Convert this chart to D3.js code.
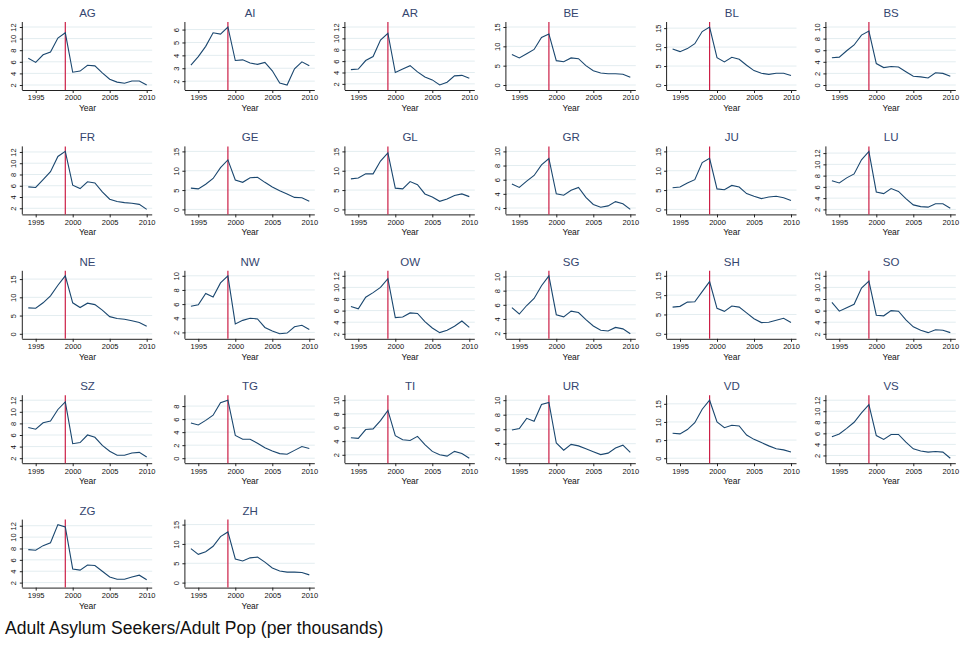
<!DOCTYPE html>
<html>
<head>
<meta charset="utf-8">
<script src="https://cdn.jsdelivr.net/npm/d3@7"></script>
<style>
  body { margin: 0; background: #fff; }
  svg { font-family: "Liberation Sans", Arial, sans-serif; }
</style>
</head>
<body>
<svg id="chart"></svg>
<script>
// years on the x axis
const years = d3.range(1994, 2011);
const xTicks = [1995, 2000, 2005, 2010];
const breakYear = 1999;

// canton codes, in panel order
const cantons = ["AG", "AI", "AR", "BE", "BL", "BS", "FR", "GE", "GL", "GR", "JU", "LU",
  "NE", "NW", "OW", "SG", "SH", "SO", "SZ", "TG", "TI", "UR", "VD", "VS", "ZG", "ZH"];

// adult asylum seekers per thousand adults, 1994..2010
const AG = [6.6, 5.9, 7.2, 7.7, 10.1, 11.0, 4.2, 4.4, 5.4, 5.3, 4.1, 3.0, 2.5, 2.3, 2.7, 2.7, 2.0];
const AI = [3.25, 3.9, 4.7, 5.75, 5.65, 6.2, 3.6, 3.65, 3.4, 3.3, 3.45, 2.8, 1.85, 1.7, 2.95, 3.5, 3.2];
const AR = [4.5, 4.6, 6.1, 6.8, 9.7, 10.9, 4.0, 4.6, 5.2, 4.1, 3.2, 2.7, 1.8, 2.3, 3.4, 3.5, 3.0];
const BE = [7.9, 7.0, 8.1, 9.2, 12.3, 13.2, 6.3, 6.0, 7.0, 6.8, 5.0, 3.7, 3.1, 2.9, 2.9, 2.8, 2.0];
const BL = [9.5, 8.8, 9.6, 10.9, 14.1, 15.3, 7.2, 6.1, 7.3, 6.8, 5.2, 3.8, 3.1, 2.8, 3.1, 3.1, 2.5];
const BS = [4.7, 4.8, 5.9, 6.9, 8.6, 9.3, 3.7, 3.0, 3.2, 3.1, 2.3, 1.5, 1.4, 1.2, 2.1, 2.0, 1.5];
const FR = [5.8, 5.7, 7.1, 8.5, 11.2, 12.1, 6.1, 5.5, 6.7, 6.5, 4.9, 3.6, 3.2, 3.0, 2.9, 2.7, 1.8];
const GE = [5.5, 5.3, 6.5, 8.0, 10.8, 12.8, 7.6, 7.0, 8.2, 8.3, 7.0, 5.8, 4.8, 4.0, 3.1, 3.0, 2.1];
const GL = [7.9, 8.1, 9.2, 9.2, 12.5, 14.6, 5.5, 5.3, 7.2, 6.4, 4.0, 3.2, 2.1, 2.7, 3.6, 4.0, 3.3];
const GR = [5.4, 4.9, 5.8, 6.6, 8.1, 9.0, 4.0, 3.8, 4.5, 4.9, 3.5, 2.5, 2.1, 2.3, 2.9, 2.6, 1.8];
const JU = [5.6, 5.8, 6.8, 7.7, 12.1, 13.2, 5.3, 5.1, 6.2, 5.8, 4.1, 3.4, 2.8, 3.2, 3.4, 3.0, 2.3];
const LU = [7.1, 6.7, 7.6, 8.3, 10.8, 12.3, 5.1, 4.8, 5.7, 5.2, 3.9, 2.8, 2.5, 2.4, 3.0, 3.0, 2.2];
const NE = [7.1, 7.0, 8.5, 10.4, 13.3, 15.9, 8.5, 7.2, 8.4, 8.0, 6.5, 4.7, 4.2, 4.0, 3.6, 3.1, 2.1];
const NW = [5.7, 5.9, 7.5, 7.0, 9.0, 10.0, 3.2, 3.7, 4.0, 3.9, 2.7, 2.2, 1.8, 1.9, 2.8, 3.0, 2.4];
const OW = [6.7, 6.3, 8.3, 9.1, 10.0, 11.5, 4.8, 4.9, 5.6, 5.5, 4.1, 3.0, 2.2, 2.6, 3.3, 4.2, 3.1];
const SG = [5.6, 4.7, 5.9, 6.9, 8.7, 10.1, 4.6, 4.3, 5.1, 4.9, 3.9, 3.0, 2.4, 2.3, 2.8, 2.6, 1.9];
const SH = [6.9, 7.1, 8.2, 8.3, 10.9, 13.5, 6.6, 5.8, 7.2, 6.9, 5.4, 3.9, 2.9, 3.0, 3.5, 4.0, 2.9];
const SO = [7.4, 5.9, 6.5, 7.1, 9.9, 11.1, 5.2, 5.1, 6.0, 5.9, 4.4, 3.2, 2.6, 2.2, 2.7, 2.6, 2.2];
const SZ = [7.3, 7.0, 8.1, 8.4, 10.4, 11.7, 4.5, 4.7, 6.0, 5.6, 4.2, 3.2, 2.5, 2.5, 2.9, 3.0, 2.2];
const TG = [5.4, 5.1, 5.8, 6.6, 8.5, 8.9, 3.5, 2.9, 2.9, 2.3, 1.6, 1.1, 0.7, 0.6, 1.2, 1.8, 1.5];
const TI = [4.5, 4.4, 5.7, 5.8, 7.0, 8.5, 4.8, 4.2, 4.1, 4.7, 3.5, 2.5, 2.0, 1.8, 2.5, 2.2, 1.5];
const UR = [5.9, 6.1, 7.5, 7.1, 9.4, 9.7, 4.1, 3.1, 3.9, 3.7, 3.3, 2.9, 2.5, 2.7, 3.4, 3.8, 2.8];
const VD = [6.9, 6.7, 7.9, 9.8, 13.5, 16.0, 10.0, 8.4, 9.1, 8.9, 6.4, 5.2, 4.3, 3.4, 2.6, 2.3, 1.7];
const VS = [5.4, 5.9, 6.9, 8.0, 9.7, 11.2, 5.6, 4.9, 5.8, 5.8, 4.4, 3.2, 2.8, 2.6, 2.7, 2.6, 1.5];
const ZG = [7.8, 7.7, 8.5, 9.0, 12.2, 11.8, 4.4, 4.2, 5.1, 5.0, 4.0, 3.0, 2.6, 2.6, 3.0, 3.3, 2.5];
const ZH = [8.8, 7.3, 8.0, 9.4, 11.9, 13.1, 6.1, 5.6, 6.4, 6.6, 5.3, 3.8, 3.0, 2.7, 2.7, 2.6, 2.0];

const series = [AG, AI, AR, BE, BL, BS, FR, GE, GL, GR, JU, LU,
  NE, NW, OW, SG, SH, SO, SZ, TG, TI, UR, VD, VS, ZG, ZH];

// y tick labels used by the panels
const ticks2to12 = [2, 4, 6, 8, 10, 12];
const ticks2to6 = [2, 3, 4, 5, 6];
const ticks0to15 = [0, 5, 10, 15];
const ticks0to10 = [0, 2, 4, 6, 8, 10];
const ticks2to10 = [2, 4, 6, 8, 10];
const ticks0to8 = [0, 2, 4, 6, 8];

const yTicks = [ticks2to12, ticks2to6, ticks2to12, ticks0to15, ticks0to15, ticks0to10,
  ticks2to12, ticks0to15, ticks0to15, ticks2to10, ticks0to15, ticks2to12,
  ticks0to15, ticks2to10, ticks2to12, ticks2to10, ticks0to15, ticks2to12,
  ticks2to12, ticks0to8, ticks2to10, ticks2to10, ticks0to15, ticks2to12,
  ticks2to12, ticks0to15];

const noteText = "Adult Asylum Seekers/Adult Pop (per thousands)";

// layout
const width = 962, height = 650;
const colStart = [28.3, 190.9, 350.9, 511.9, 672.6, 831.9]; // x of 1994 in each column
const rowPitch = 124.4;
const plotW = 118.4;   // 1994..2010
const pad = 5.5;       // plot region margin around data

const lineColor = "#1a476f";
const redColor = "#cc1f46";
const gridColor = "#e3edf0";
const titleColor = "#34466f";

const svg = d3.select("#chart").attr("width", width).attr("height", height);

cantons.forEach((name, i) => {
  const col = i % 6, row = Math.floor(i / 6);
  const data = series[i];
  const ticks = yTicks[i];
  const x0 = colStart[col];
  const g = svg.append("g").attr("transform", `translate(0,${row * rowPitch})`);

  const x = d3.scaleLinear().domain([1994, 2010]).range([x0, x0 + plotW]);
  const ext = d3.extent(data.concat(ticks));
  const y = d3.scaleLinear().domain(ext).range([85, 27]);

  const left = x0 - pad, right = x0 + plotW + pad;
  const top = 22, bottom = 90;

  // gridlines
  g.append("g").selectAll("line").data(ticks).join("line")
    .attr("x1", left).attr("x2", right)
    .attr("y1", d => y(d)).attr("y2", d => y(d))
    .attr("stroke", gridColor).attr("stroke-width", 1);

  // y axis, labels turned sideways like Stata
  const yAxis = g.append("g").attr("transform", `translate(${left},0)`)
    .call(d3.axisLeft(y).tickValues(ticks).tickFormat(d3.format("d")).tickSize(3));
  yAxis.select(".domain").attr("d", `M-0.5,${top}V${bottom}`).attr("stroke", "#222");
  yAxis.selectAll(".tick line").attr("stroke", "#222");
  yAxis.selectAll(".tick text")
    .attr("font-size", 7.5).attr("fill", "#111")
    .attr("text-anchor", "middle").attr("dy", null)
    .attr("x", null)
    .attr("transform", "translate(-9,0) rotate(-90)")
    .attr("dominant-baseline", "central");

  // x axis
  const xAxis = g.append("g").attr("transform", `translate(0,${bottom})`)
    .call(d3.axisBottom(x).tickValues(xTicks).tickFormat(d3.format("d")).tickSize(3).tickPadding(2));
  xAxis.select(".domain").attr("d", `M${left - 0.5},0.5H${right}`).attr("stroke", "#222");
  xAxis.selectAll(".tick line").attr("stroke", "#222");
  xAxis.selectAll(".tick text").attr("font-size", 7.5).attr("fill", "#111");
  g.selectAll(".tick text").attr("font-family", "Liberation Sans, Arial, sans-serif");

  // axis title
  g.append("text")
    .attr("x", (left + right) / 2).attr("y", 108)
    .attr("text-anchor", "middle").attr("dominant-baseline", "central")
    .attr("font-size", 8.5).attr("fill", "#111")
    .text("Year");

  // panel title
  g.append("text")
    .attr("x", (left + right) / 2).attr("y", 13)
    .attr("text-anchor", "middle").attr("dominant-baseline", "central")
    .attr("font-size", 11.5).attr("fill", titleColor)
    .text(name);

  // break line at 1999
  g.append("line")
    .attr("x1", x(breakYear)).attr("x2", x(breakYear))
    .attr("y1", top).attr("y2", bottom)
    .attr("stroke", redColor).attr("stroke-width", 1.2);

  // series
  g.append("path")
    .datum(data)
    .attr("fill", "none")
    .attr("stroke", lineColor)
    .attr("stroke-width", 1.1)
    .attr("d", d3.line().x((d, j) => x(years[j])).y(d => y(d)));
});

// note
svg.append("text")
  .attr("x", 5).attr("y", 628)
  .attr("dominant-baseline", "central")
  .attr("font-size", 17.5).attr("fill", "#111")
  .text(noteText);
</script>
</body>
</html>
